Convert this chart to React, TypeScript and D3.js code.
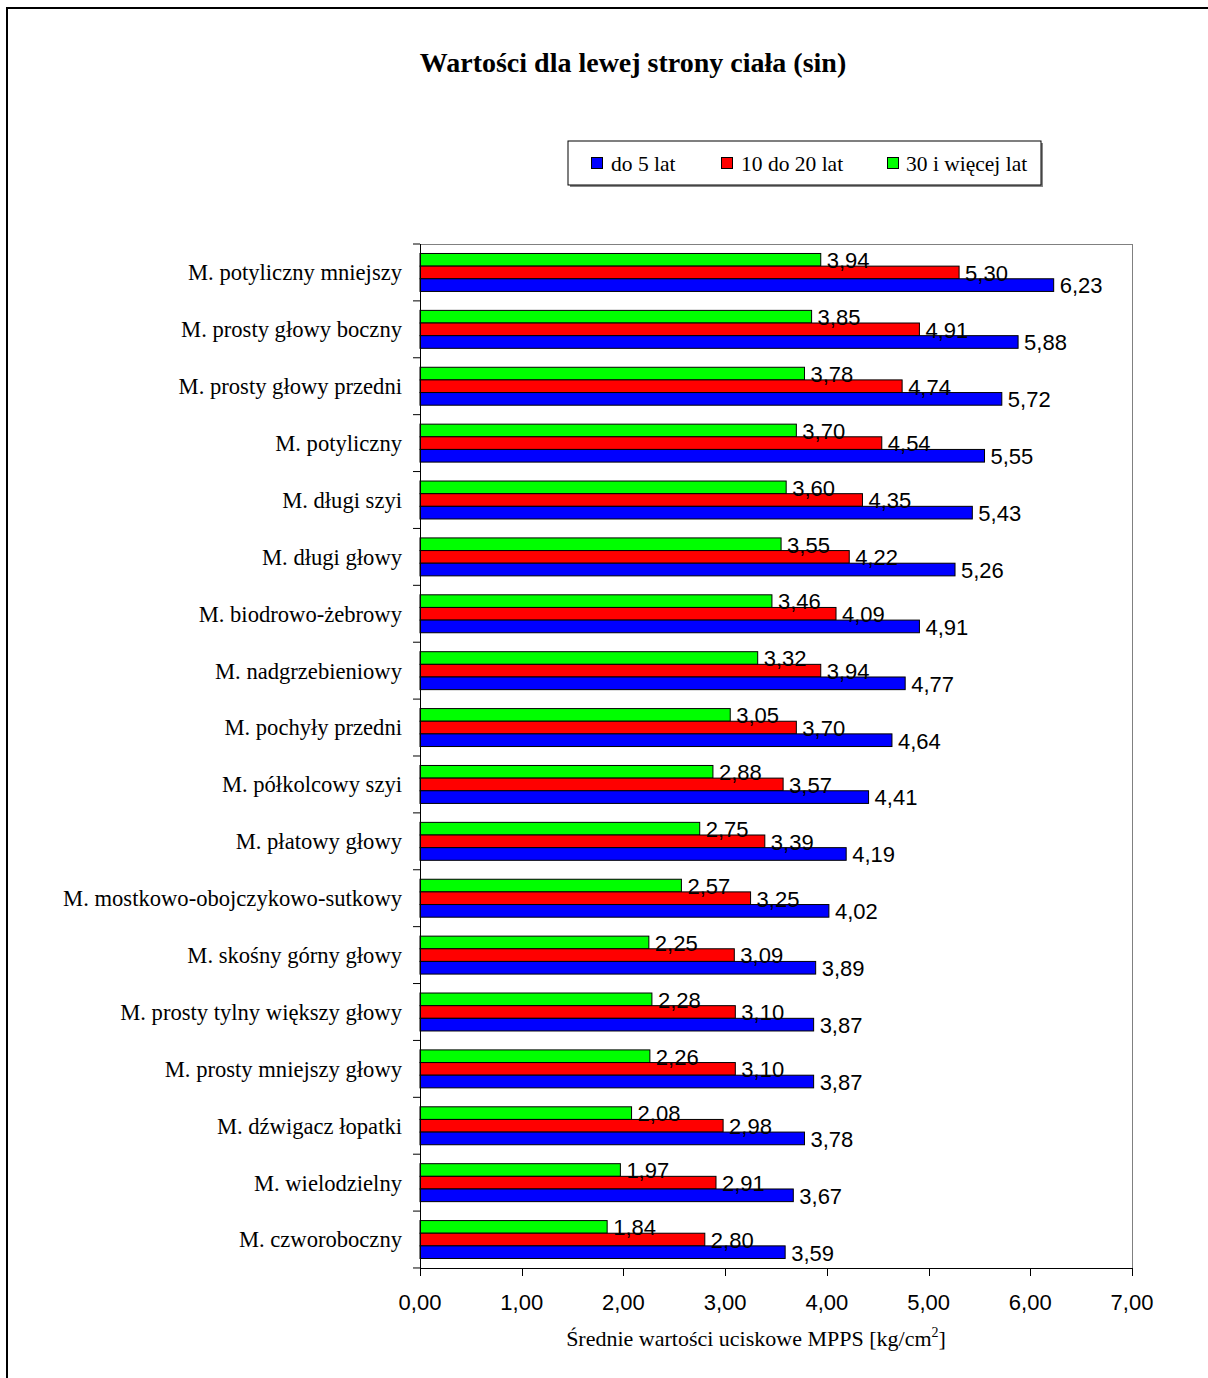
import React from "react";
import * as d3 from "d3";

const categories: string[] = [
  "M. potyliczny mniejszy",
  "M. prosty głowy boczny",
  "M. prosty głowy przedni",
  "M. potyliczny",
  "M. długi szyi",
  "M. długi głowy",
  "M. biodrowo-żebrowy",
  "M. nadgrzebieniowy",
  "M. pochyły przedni",
  "M. półkolcowy szyi",
  "M. płatowy głowy",
  "M. mostkowo-obojczykowo-sutkowy",
  "M. skośny górny głowy",
  "M. prosty tylny większy głowy",
  "M. prosty mniejszy głowy",
  "M. dźwigacz łopatki",
  "M. wielodzielny",
  "M. czworoboczny",
];

const do5lat: number[] = [6.23, 5.88, 5.72, 5.55, 5.43, 5.26, 4.91, 4.77, 4.64, 4.41, 4.19, 4.02, 3.89, 3.87, 3.87, 3.78, 3.67, 3.59];
const lat10do20: number[] = [5.3, 4.91, 4.74, 4.54, 4.35, 4.22, 4.09, 3.94, 3.7, 3.57, 3.39, 3.25, 3.09, 3.1, 3.1, 2.98, 2.91, 2.8];
const lat30plus: number[] = [3.94, 3.85, 3.78, 3.7, 3.6, 3.55, 3.46, 3.32, 3.05, 2.88, 2.75, 2.57, 2.25, 2.28, 2.26, 2.08, 1.97, 1.84];

const seriesNames: string[] = ["do 5 lat", "10 do 20 lat", "30 i więcej lat"];
const seriesColors: string[] = ["#0000FF", "#FF0000", "#00FF00"];
const xTicks: number[] = [0, 1, 2, 3, 4, 5, 6, 7];

const title = "Wartości dla lewej strony ciała (sin)";

const W = 1208;
const H = 1378;
const plot = { left: 420, right: 1132, top: 244, bottom: 1268 };

const fmt = (v: number) => v.toFixed(2).replace(".", ",");

export default function App() {
  const series = [
    { name: seriesNames[0], color: seriesColors[0], values: do5lat },
    { name: seriesNames[1], color: seriesColors[1], values: lat10do20 },
    { name: seriesNames[2], color: seriesColors[2], values: lat30plus },
  ];
  // drawing order within a group: green on top, red, blue at bottom
  const stackOrder = [2, 1, 0];

  const x = d3.scaleLinear().domain([0, 7]).range([plot.left, plot.right]);
  const y = d3
    .scaleBand<string>()
    .domain(categories)
    .range([plot.top, plot.bottom])
    .paddingInner(0.333)
    .paddingOuter(0.1667);
  const inner = d3
    .scaleBand<number>()
    .domain(stackOrder)
    .range([0, y.bandwidth()])
    .padding(0);

  const step = y.step();
  const boundaries = d3.range(categories.length + 1).map((i) => plot.top + i * step);

  const serif = "'Liberation Serif', 'Times New Roman', serif";
  const sans = "'Liberation Sans', Arial, sans-serif";

  const legendItems = [
    { sx: 591, tx: 611 },
    { sx: 721, tx: 741 },
    { sx: 887, tx: 906 },
  ];

  return (
    <svg
      width={W}
      height={H}
      style={{ position: "absolute", left: 0, top: 0, background: "#fff" }}
    >
      <rect x={0} y={0} width={W} height={H} fill="#fff" />
      {/* outer chart border */}
      <rect x={7} y={8} width={W + 40} height={H + 40} fill="none" stroke="#000" strokeWidth={2} />

      {/* title */}
      <text x={633} y={72} textAnchor="middle" fontFamily={serif} fontWeight="bold" fontSize={28}>
        {title}
      </text>

      {/* legend */}
      <rect x={570} y={143} width={473} height={44} fill="#888" />
      <rect x={568} y={141} width={473} height={44} fill="#fff" stroke="#000" strokeWidth={1} />
      {series.map((s, i) => (
        <g key={s.name}>
          <rect x={legendItems[i].sx + 0.5} y={157.5} width={11} height={11} fill={s.color} stroke="#000" strokeWidth={1} />
          <text x={legendItems[i].tx} y={171} fontFamily={serif} fontSize={21.5}>
            {s.name}
          </text>
        </g>
      ))}

      {/* plot area border (gray top/right) */}
      <line x1={plot.left} x2={plot.right + 0.5} y1={plot.top + 0.5} y2={plot.top + 0.5} stroke="#808080" />
      <line x1={plot.right + 0.5} x2={plot.right + 0.5} y1={plot.top} y2={plot.bottom} stroke="#808080" />

      {/* bars */}
      {categories.map((c, ci) => (
        <g key={c}>
          {stackOrder.map((si) => {
            const s = series[si];
            const v = s.values[ci];
            const by = (y(c) as number) + (inner(si) as number);
            return (
              <rect
                key={si}
                x={x(0)}
                y={by}
                width={x(v) - x(0)}
                height={inner.bandwidth()}
                fill={s.color}
                stroke="#000"
                strokeWidth={1}
              />
            );
          })}
        </g>
      ))}

      {/* value labels */}
      {categories.map((c, ci) => (
        <g key={c + "-lbl"}>
          {stackOrder.map((si) => {
            const s = series[si];
            const v = s.values[ci];
            const by = (y(c) as number) + (inner(si) as number) + inner.bandwidth() / 2;
            return (
              <text key={si} x={x(v) + 6} y={by} dy="0.38em" fontFamily={sans} fontSize={22}>
                {fmt(v)}
              </text>
            );
          })}
        </g>
      ))}

      {/* y axis */}
      <line x1={plot.left + 0.5} x2={plot.left + 0.5} y1={plot.top} y2={plot.bottom + 0.5} stroke="#000" />
      {boundaries.map((b, i) => (
        <line key={i} x1={plot.left - 7} x2={plot.left} y1={b} y2={b} stroke="#000" />
      ))}
      {categories.map((c) => (
        <text
          key={c + "-cat"}
          x={402}
          y={(y(c) as number) + y.bandwidth() / 2}
          dy="0.35em"
          textAnchor="end"
          fontFamily={serif}
          fontSize={22.6}
        >
          {c}
        </text>
      ))}

      {/* x axis */}
      <line x1={plot.left} x2={plot.right + 0.5} y1={plot.bottom + 0.5} y2={plot.bottom + 0.5} stroke="#000" />
      {xTicks.map((t) => (
        <g key={t}>
          <line x1={Math.round(x(t)) + 0.5} x2={Math.round(x(t)) + 0.5} y1={plot.bottom} y2={plot.bottom + 8} stroke="#000" />
          <text x={x(t)} y={1310} textAnchor="middle" fontFamily={sans} fontSize={22}>
            {fmt(t)}
          </text>
        </g>
      ))}

      {/* x axis title */}
      <text x={756} y={1346} textAnchor="middle" fontFamily={serif} fontSize={22}>
        Średnie wartości uciskowe MPPS [kg/cm
        <tspan dy={-9} fontSize={14}>2</tspan>
        <tspan dy={9}>]</tspan>
      </text>
    </svg>
  );
}
